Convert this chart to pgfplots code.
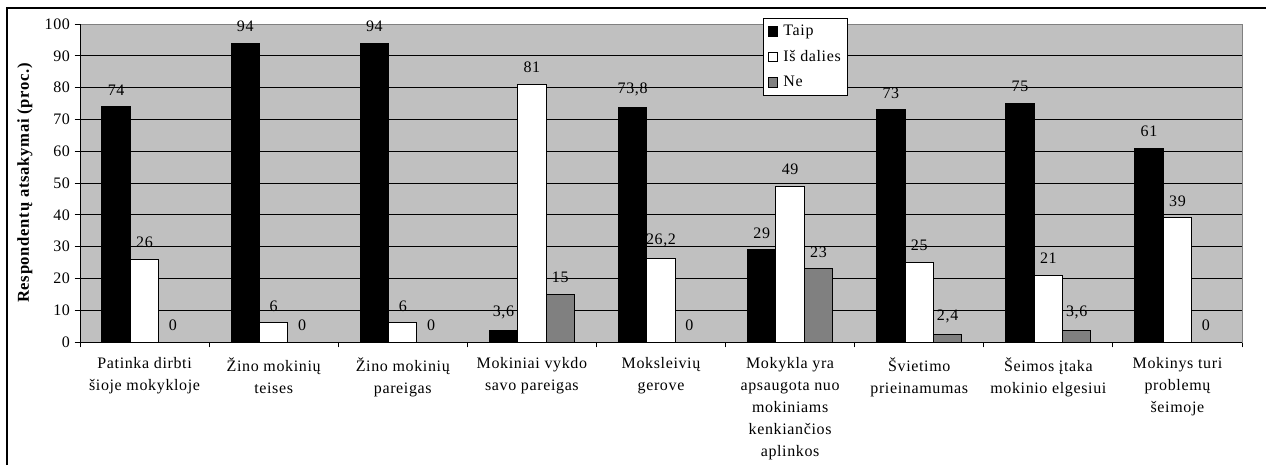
\documentclass[border=0pt]{standalone}
\usepackage{fontspec}
\setmainfont{Liberation Serif}[LetterSpace=4]
\usepackage{pgfplots}
\pgfplotsset{compat=1.18}
\definecolor{plotbg}{HTML}{C0C0C0}
\definecolor{negray}{HTML}{808080}
\newcommand{\lblfont}{\fontsize{12}{16.5}\selectfont}
\begin{document}
\begin{tikzpicture}
\useasboundingbox (0,0) rectangle (949.5pt,348.75pt);
\draw[line width=1.5pt] (5.25pt,0) -- (5.25pt,342.75pt) -- (949.5pt,342.75pt);
\begin{axis}[
  at={(60pt,92.25pt)}, anchor=south west,
  scale only axis, width=871.5pt, height=238.5pt,
  ybar=0pt, bar width=0.22,
  xmin=-0.5, xmax=8.5, ymin=0, ymax=100,
  ytick={0,10,...,100},
  xtick={0,...,8},
  xticklabels={{Patinka dirbti\\šioje mokykloje},{Žino mokinių\\teises},{Žino mokinių\\pareigas},{Mokiniai vykdo\\savo pareigas},{Moksleivių\\gerove},{Mokykla yra\\apsaugota nuo\\mokiniams\\kenkiančios\\aplinkos},{Švietimo\\prieinamumas},{Šeimos įtaka\\mokinio elgesiui},{Mokinys turi\\problemų\\šeimoje}},
  minor xtick={-0.5,0.5,...,8.5},
  major x tick style={draw=none},
  tick align=outside, tick pos=left,
  major tick length=4pt, minor tick length=4pt,
  tick style={black, line width=0.75pt},
  xticklabel style={align=center, font=\lblfont, yshift=-4pt},
  yticklabel style={font=\lblfont},
  /pgf/number format/use comma,
  /pgf/number format/1000 sep={},
  /pgf/number format/assume math mode=true,
  ylabel={\bfseries Respondentų atsakymai (proc.)},
  ylabel style={at={(axis description cs:-0.0475,0.5)}, anchor=center, font=\fontsize{12.5}{14}\selectfont},
  axis background/.style={fill=plotbg},
  axis line style={draw=negray, line width=0.75pt},
  ymajorgrids, major grid style={black, line width=0.75pt},
  nodes near coords,
  every node near coord/.append style={font=\lblfont, yshift=5pt, black},
  legend style={at={(0.588,1.019)}, anchor=north west, draw=black, fill=white,
    font=\lblfont, row sep=5.5pt, inner xsep=3pt, inner ysep=3pt, line width=0.75pt},
  legend cell align=left,
]
\addplot[fill=black, draw=black, line width=0.75pt,
  legend image code/.code={\draw[fill=black,draw=black,line width=0.75pt] (0pt,-3.5pt) rectangle (7pt,3.5pt); \path (9pt,0);}]
  coordinates {(0,74) (1,94) (2,94) (3,3.6) (4,73.8) (5,29) (6,73) (7,75) (8,61)};
\addplot[fill=white, draw=black, line width=0.75pt,
  legend image code/.code={\draw[fill=white,draw=black,line width=0.75pt] (0pt,-3.5pt) rectangle (7pt,3.5pt); \path (9pt,0);}]
  coordinates {(0,26) (1,6) (2,6) (3,81) (4,26.2) (5,49) (6,25) (7,21) (8,39)};
\addplot[fill=negray, draw=black, line width=0.75pt,
  legend image code/.code={\draw[fill=negray,draw=black,line width=0.75pt] (0pt,-3.5pt) rectangle (7pt,3.5pt); \path (9pt,0);}]
  coordinates {(0,0) (1,0) (2,0) (3,15) (4,0) (5,23) (6,2.4) (7,3.6) (8,0)};
\legend{Taip, Iš dalies, Ne}
\draw[black, line width=0.75pt] (rel axis cs:0,1) -- (rel axis cs:0,0) -- (rel axis cs:1,0);
\end{axis}
\end{tikzpicture}
\end{document}
